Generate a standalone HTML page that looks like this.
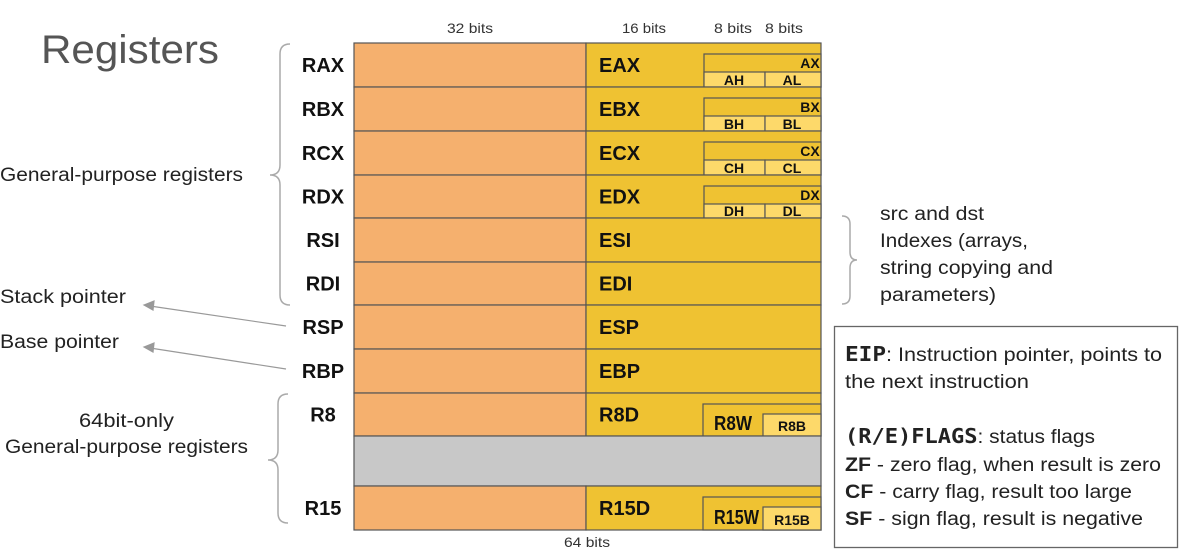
<!DOCTYPE html>
<html><head><meta charset="utf-8"><style>
body{margin:0;background:#fff;}
svg{display:block;font-family:"Liberation Sans",sans-serif;}
.reg{font-weight:bold;font-size:20px;fill:#111;}
.lbl{font-size:19px;fill:#222;}
.small{font-size:14px;fill:#333;}
.sub{font-weight:bold;font-size:14px;fill:#111;}
</style></head><body>
<svg width="1189" height="556" viewBox="0 0 1189 556">
<text x="41" y="63" font-size="40" fill="#555" textLength="178" lengthAdjust="spacingAndGlyphs">Registers</text>
<g class="small">
<text x="447" y="33" textLength="46" lengthAdjust="spacingAndGlyphs">32 bits</text>
<text x="622" y="33" textLength="44" lengthAdjust="spacingAndGlyphs">16 bits</text>
<text x="714" y="33" textLength="38" lengthAdjust="spacingAndGlyphs">8 bits</text>
<text x="765" y="33" textLength="38" lengthAdjust="spacingAndGlyphs">8 bits</text>
<text x="564" y="547" textLength="46" lengthAdjust="spacingAndGlyphs">64 bits</text>
</g>
<g id="rows" stroke="#555" stroke-width="1.2"></g>
<g id="labels"></g>
<path d="M290 44 Q280 44 280 54 L280 165 Q280 175 270 175 Q280 175 280 185 L280 295 Q280 305 290 305" fill="none" stroke="#aaa" stroke-width="1.5"/>
<path d="M288 394 Q278 394 278 404 L278 450 Q278 460 268 460 Q278 460 278 470 L278 513 Q278 523 288 523" fill="none" stroke="#aaa" stroke-width="1.5"/>
<path d="M842 216 Q850 216 850 224 L850 252 Q850 260 857 260 Q850 260 850 268 L850 296 Q850 304 842 304" fill="none" stroke="#aaa" stroke-width="1.5"/>
<g stroke="#999" stroke-width="1.2" fill="#999">
<line x1="286" y1="326" x2="150" y2="306"/>
<path d="M144 305 L154 301 L153 310 Z"/>
<line x1="286" y1="369" x2="150" y2="348"/>
<path d="M144 347 L154 343 L153 352 Z"/>
</g>
<g class="lbl">
<text x="0" y="181" textLength="243" lengthAdjust="spacingAndGlyphs">General-purpose registers</text>
<text x="0" y="303" textLength="126" lengthAdjust="spacingAndGlyphs">Stack pointer</text>
<text x="0" y="348" textLength="119" lengthAdjust="spacingAndGlyphs">Base pointer</text>
<text x="79" y="427" textLength="95" lengthAdjust="spacingAndGlyphs">64bit-only</text>
<text x="5" y="453" textLength="243" lengthAdjust="spacingAndGlyphs">General-purpose registers</text>
<text x="880" y="220" textLength="104" lengthAdjust="spacingAndGlyphs">src and dst</text>
<text x="880" y="247" textLength="148" lengthAdjust="spacingAndGlyphs">Indexes (arrays,</text>
<text x="880" y="274" textLength="173" lengthAdjust="spacingAndGlyphs">string copying and</text>
<text x="880" y="301" textLength="116" lengthAdjust="spacingAndGlyphs">parameters)</text>
</g>
<rect x="834.5" y="326.5" width="343" height="221" fill="#fff" stroke="#666" stroke-width="1.3"/>
<g class="lbl">
<text x="845" y="361" textLength="317" lengthAdjust="spacingAndGlyphs"><tspan font-weight="bold" font-family="'DejaVu Sans Mono',monospace" font-size="20">EIP</tspan>: Instruction pointer, points to</text>
<text x="845" y="388" textLength="184" lengthAdjust="spacingAndGlyphs">the next instruction</text>
<text x="845" y="443" textLength="250" lengthAdjust="spacingAndGlyphs"><tspan font-weight="bold" font-family="'DejaVu Sans Mono',monospace" font-size="20">(R/E)FLAGS</tspan>: status flags</text>
<text x="845" y="471" textLength="316" lengthAdjust="spacingAndGlyphs"><tspan font-weight="bold">ZF</tspan> - zero flag, when result is zero</text>
<text x="845" y="498" textLength="287" lengthAdjust="spacingAndGlyphs"><tspan font-weight="bold">CF</tspan> - carry flag, result too large</text>
<text x="845" y="525" textLength="298" lengthAdjust="spacingAndGlyphs"><tspan font-weight="bold">SF</tspan> - sign flag, result is negative</text>
</g>
</svg>
<script>
const regs=["RAX","RBX","RCX","RDX","RSI","RDI","RSP","RBP","R8","","R15"];
const regs32=["EAX","EBX","ECX","EDX","ESI","EDI","ESP","EBP","R8D","","R15D"];
const subs16=["AX","BX","CX","DX"];
const rowsY=[43,87,131,175,218,262,305,349,393,436,486,530];
const NS="http://www.w3.org/2000/svg";
const g=document.getElementById('rows'),lg=document.getElementById('labels');
function mk(p,tag,a,txt){const e=document.createElementNS(NS,tag);for(const k in a)e.setAttribute(k,a[k]);if(txt!==undefined)e.textContent=txt;p.appendChild(e);return e;}
regs.forEach((r,i)=>{
 const y0=rowsY[i],y1=rowsY[i+1],h=y1-y0,cy=(y0+y1)/2+7;
 if(r===""){const e=mk(g,'rect',{x:354,y:y0,width:467,height:h,fill:'#C8C8C8'});
  
  return;}
 const a=mk(g,'rect',{x:354,y:y0,width:232,height:h,fill:'#F5B06E'});
 
 
 const b=mk(g,'rect',{x:586,y:y0,width:235,height:h,fill:'#EFC232'});
 
 
 const t=mk(lg,'text',{x:323,y:cy,'text-anchor':'middle',class:'reg'},r);
 
 
 const t2=mk(lg,'text',{x:599,y:cy,class:'reg'},regs32[i]);
 
 
 if(i<4){const L=subs16[i][0];
  mk(g,'rect',{x:704,y:y0+11,width:117,height:h-11,fill:'#EFC232'});
  mk(g,'rect',{x:704,y:y0+29,width:61,height:h-29,fill:'#FDD96A'});
  mk(g,'rect',{x:765,y:y0+29,width:56,height:h-29,fill:'#FDD96A'});
  mk(lg,'text',{x:810,y:y0+25,'text-anchor':'middle',class:'sub'},subs16[i]);
  mk(lg,'text',{x:734,y:y1-2,'text-anchor':'middle',class:'sub'},L+'H');
  mk(lg,'text',{x:792,y:y1-2,'text-anchor':'middle',class:'sub'},L+'L');
 }
 if(r==="R8"||r==="R15"){
  mk(g,'rect',{x:703,y:y0+11,width:118,height:h-11,fill:'#EFC232'});
  mk(g,'rect',{x:763,y:y0+21,width:58,height:h-21,fill:'#FDD96A'});
  mk(lg,'text',{x:714,y:y1-6,class:'reg','font-size':'18',textLength:r==="R8"?38:45,lengthAdjust:'spacingAndGlyphs'},r+'W');
  mk(lg,'text',{x:792,y:y1-5,'text-anchor':'middle',class:'sub','font-size':r==="R8"?14:12},r+'B');
 }
});
</script>
</body></html>
